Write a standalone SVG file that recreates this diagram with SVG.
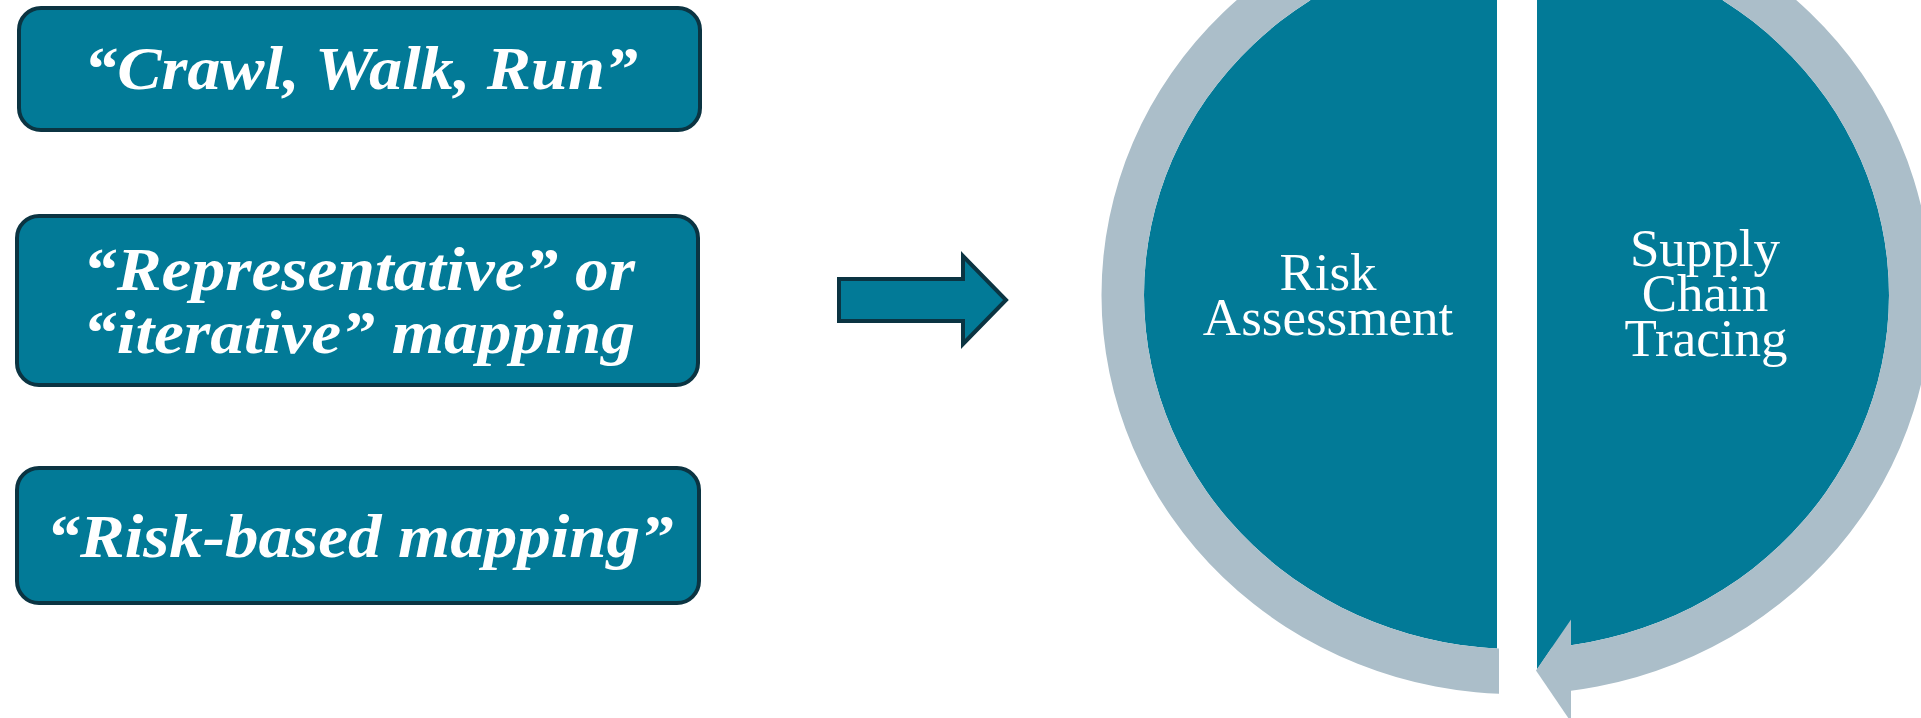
<svg xmlns="http://www.w3.org/2000/svg" width="1921" height="718" viewBox="0 0 1921 718">
<style>
.box{fill:#027A97;stroke:#0B3442;stroke-width:4}
.bt{font-family:"Liberation Serif","Times New Roman",serif;font-weight:bold;font-style:italic;font-size:62px;fill:#ffffff;text-anchor:middle}
.ct{font-family:"Liberation Serif","Times New Roman",serif;font-size:53px;fill:#ffffff;text-anchor:middle}
.teal{fill:#027A97}
.grey{fill:#ABBEC9}
</style>
<defs>
<clipPath id="cL"><rect x="0" y="-200" width="1497" height="1100"/></clipPath>
<clipPath id="cR"><rect x="1537" y="-200" width="600" height="1100"/></clipPath>
<clipPath id="gL"><rect x="0" y="-200" width="1499" height="1100"/></clipPath>
<clipPath id="gR"><rect x="1571" y="-200" width="600" height="1100"/></clipPath>
</defs>
<rect width="1921" height="718" fill="#ffffff"/>
<g id="box1">
<rect class="box" x="19" y="8" width="681" height="122" rx="22"/>
<text class="bt" x="361" y="89" textLength="554" lengthAdjust="spacingAndGlyphs">“Crawl, Walk, Run”</text>
</g>
<g id="box2">
<rect class="box" x="17" y="216" width="681" height="169" rx="22"/>
<text class="bt" x="359" y="290" textLength="552" lengthAdjust="spacingAndGlyphs">“Representative” or</text>
<text class="bt" x="359" y="353" textLength="552" lengthAdjust="spacingAndGlyphs">“iterative” mapping</text>
</g>
<g id="box3">
<rect class="box" x="17" y="468" width="682" height="135" rx="22"/>
<text class="bt" x="360" y="557" textLength="627" lengthAdjust="spacingAndGlyphs">“Risk-based mapping”</text>
</g>
<g id="risk-assessment">
<ellipse class="teal" cx="1516.5" cy="295" rx="372.5" ry="354" clip-path="url(#cL)"/>
<text class="ct" x="1328" y="290">Risk</text>
<text class="ct" x="1328" y="335">Assessment</text>
</g>
<g id="supply-chain-tracing">
<ellipse class="teal" cx="1516.5" cy="295" rx="372.5" ry="354" clip-path="url(#cR)"/>
<polygon class="teal" points="1537,630 1537,669.5 1571,619.5 1571,630"/>
<text class="ct" x="1705" y="266">Supply</text>
<text class="ct" x="1705" y="311">Chain</text>
<text class="ct" x="1706" y="356">Tracing</text>
</g>
<g id="connectors">
<polygon points="839,279 963,279 963,256 1006,300 963,344 963,321 839,321" fill="#027A97" stroke="#0B3442" stroke-width="4" stroke-linejoin="miter"/>
<path class="grey" fill-rule="evenodd" clip-path="url(#gL)" d="M1101.5,295 a415,399 0 1,0 830,0 a415,399 0 1,0 -830,0 Z M1144,295 a372.5,354 0 1,0 745,0 a372.5,354 0 1,0 -745,0 Z"/>
<path class="grey" fill-rule="evenodd" clip-path="url(#gR)" d="M1101.5,295 a415,399 0 1,0 830,0 a415,399 0 1,0 -830,0 Z M1144,295 a372.5,354 0 1,0 745,0 a372.5,354 0 1,0 -745,0 Z"/>
<polygon class="grey" points="1536,670.5 1571,619.5 1571,722"/>
</g>
</svg>
